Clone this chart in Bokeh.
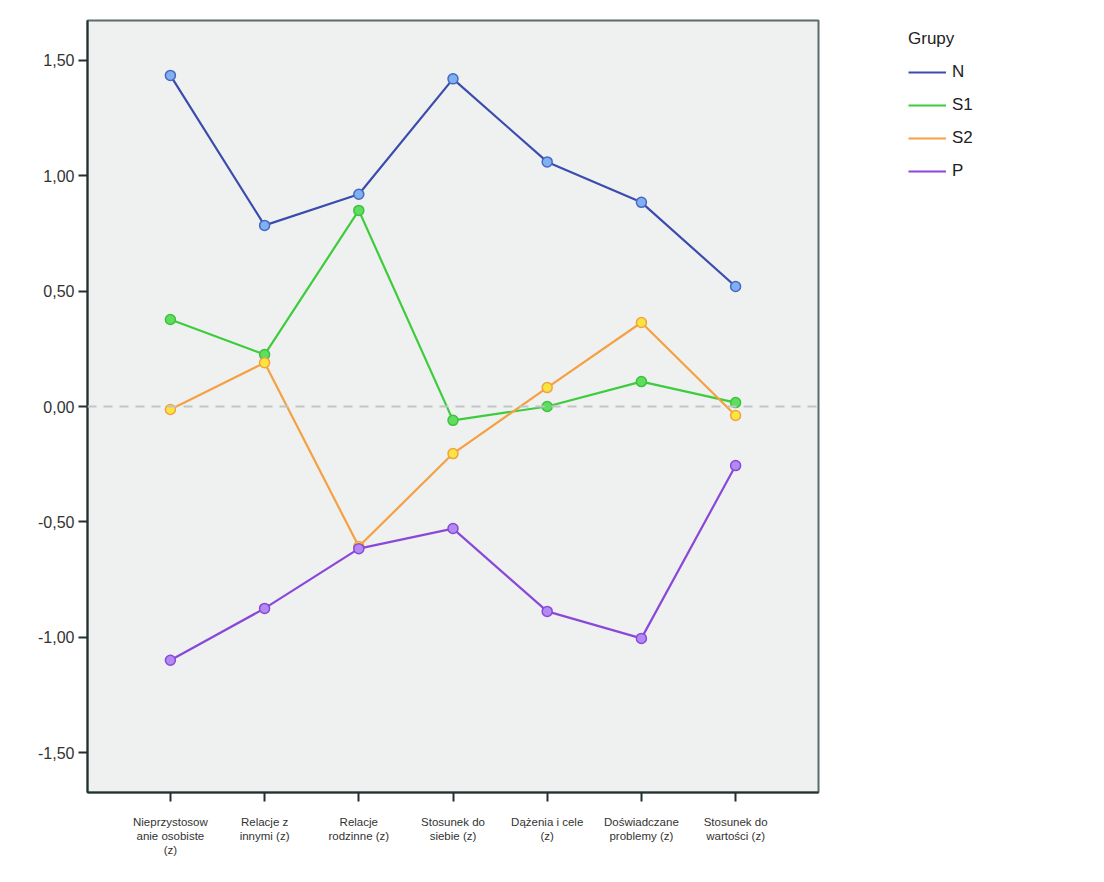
from bokeh.plotting import figure
from bokeh.models import Span, Legend, LegendItem, FixedTicker, Range1d
from bokeh.embed import file_html
from bokeh.resources import INLINE

categories = ["Nieprzystosow\nanie osobiste\n(z)", "Relacje z\ninnymi (z)", "Relacje\nrodzinne (z)",
              "Stosunek do\nsiebie (z)", "Dążenia i cele\n(z)", "Doświadczane\nproblemy (z)",
              "Stosunek do\nwartości (z)"]
groups = ["N", "S1", "S2", "P"]
vals_N = [1.435, 0.785, 0.92, 1.42, 1.06, 0.885, 0.52]
vals_S1 = [0.377, 0.225, 0.85, -0.06, 0.0, 0.108, 0.017]
vals_S2 = [-0.013, 0.19, -0.607, -0.204, 0.082, 0.364, -0.039]
vals_P = [-1.10, -0.875, -0.616, -0.529, -0.888, -1.005, -0.256]
y_ticks = [-1.5, -1.0, -0.5, 0.0, 0.5, 1.0, 1.5]
y_tick_labels = ["-1,50", "-1,00", "-0,50", "0,00", "0,50", "1,00", "1,50"]

series = [vals_N, vals_S1, vals_S2, vals_P]
line_colors = ["#3c4cae", "#3ccc3c", "#f5a042", "#8a48d8"]
fill_colors = ["#7fb0f0", "#5ede5e", "#f8e63e", "#b38af2"]
edge_colors = ["#4868c4", "#40c040", "#f5a042", "#8a48d8"]

p = figure(frame_width=731, frame_height=772, output_backend="svg", toolbar_location=None,
           x_range=Range1d(-0.88, 6.88), y_range=Range1d(-1.673, 1.673),
           min_border_left=87, min_border_right=10, min_border_top=20, min_border_bottom=90)
p.background_fill_color = "#eef1f0"
p.border_fill_color = "white"
p.grid.visible = False
p.outline_line_color = "#5c6c6c"
p.outline_line_width = 2

zero = Span(location=0, dimension="width", line_color="#bfc6c5", line_width=2, line_dash="9 7")
p.add_layout(zero)

xs = list(range(len(categories)))
items = []
for name, ys, lc, fc, ec in zip(groups, series, line_colors, fill_colors, edge_colors):
    r = p.line(xs, ys, line_color=lc, line_width=2.2)
    p.scatter(xs, ys, size=10, fill_color=fc, line_color=ec, line_width=1.5)
    items.append(LegendItem(label=name, renderers=[r]))

legend = Legend(items=items, location=(80, 601), title="Grupy",
                title_text_font="Liberation Sans", title_text_font_size="17px",
                title_text_font_style="normal",
                title_text_color="#222222", title_standoff=13,
                label_text_font="Liberation Sans",
                label_text_font_size="17px", label_text_color="#222222",
                background_fill_alpha=0, border_line_alpha=0, glyph_width=38,
                label_standoff=6, spacing=13, padding=10, margin=0)
p.add_layout(legend, "right")

p.xaxis.ticker = FixedTicker(ticks=xs)
p.xaxis.major_label_overrides = {i: c for i, c in enumerate(categories)}
p.xaxis.major_label_text_font = "Liberation Sans"
p.xaxis.major_label_text_font_size = "11.5px"
p.xaxis.major_label_text_color = "#333333"
p.xaxis.major_tick_out = 9
p.xaxis.major_tick_in = 0
p.xaxis.minor_tick_line_color = None
p.xaxis.axis_line_width = 2
p.xaxis.axis_line_color = "#223030"
p.xaxis.major_tick_line_color = "#223030"
p.xaxis.major_tick_line_width = 2
p.xaxis.major_label_standoff = 14

p.yaxis.ticker = FixedTicker(ticks=y_ticks)
p.yaxis.major_label_overrides = {t: l for t, l in zip(y_ticks, y_tick_labels)}
p.yaxis.major_label_text_font = "Liberation Sans"
p.yaxis.major_label_text_font_size = "16px"
p.yaxis.major_label_text_color = "#333333"
p.yaxis.major_tick_out = 9
p.yaxis.major_tick_in = 0
p.yaxis.minor_tick_line_color = None
p.yaxis.axis_line_width = 2
p.yaxis.axis_line_color = "#223030"
p.yaxis.major_tick_line_color = "#223030"
p.yaxis.major_tick_line_width = 2
p.yaxis.major_label_standoff = 4

open("out.html", "w").write(file_html(p, INLINE))
